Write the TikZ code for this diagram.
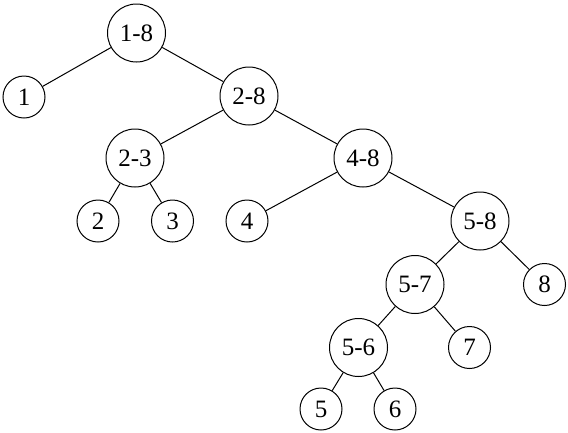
\documentclass[tikz,border=0pt]{standalone}
\usepackage{fontspec}
\setmainfont{Liberation Serif}
\begin{document}
\begin{tikzpicture}[x=1pt,y=-1pt,
  big/.style={circle,draw,line width=1pt,minimum size=58pt,inner sep=0pt,font=\fontsize{25}{29}\selectfont},
  leaf/.style={circle,draw,line width=1pt,minimum size=42pt,inner sep=0pt,font=\fontsize{25}{29}\selectfont},
  edge/.style={line width=1pt}]
\useasboundingbox (0,0) rectangle (568,432);
\node[big]  (n18) at (136.5,33) {1-8};
\node[leaf] (n1)  at (24,97) {1};
\node[big]  (n28) at (249,96) {2-8};
\node[big]  (n23) at (135,158) {2-3};
\node[big]  (n48) at (363,158) {4-8};
\node[leaf] (n2)  at (98,221) {2};
\node[leaf] (n3)  at (172.5,221) {3};
\node[leaf] (n4)  at (247,221) {4};
\node[big]  (n58) at (480,221) {5-8};
\node[big]  (n57) at (415,284.5) {5-7};
\node[leaf] (n8)  at (544.5,284.5) {8};
\node[big]  (n56) at (358.5,347.5) {5-6};
\node[leaf] (n7)  at (469.5,347.5) {7};
\node[leaf] (n5)  at (321,409) {5};
\node[leaf] (n6)  at (395,409) {6};
\draw[edge] (n18) -- (n1);
\draw[edge] (n18) -- (n28);
\draw[edge] (n28) -- (n23);
\draw[edge] (n28) -- (n48);
\draw[edge] (n23) -- (n2);
\draw[edge] (n23) -- (n3);
\draw[edge] (n48) -- (n4);
\draw[edge] (n48) -- (n58);
\draw[edge] (n58) -- (n57);
\draw[edge] (n58) -- (n8);
\draw[edge] (n57) -- (n56);
\draw[edge] (n57) -- (n7);
\draw[edge] (n56) -- (n5);
\draw[edge] (n56) -- (n6);
\end{tikzpicture}
\end{document}
